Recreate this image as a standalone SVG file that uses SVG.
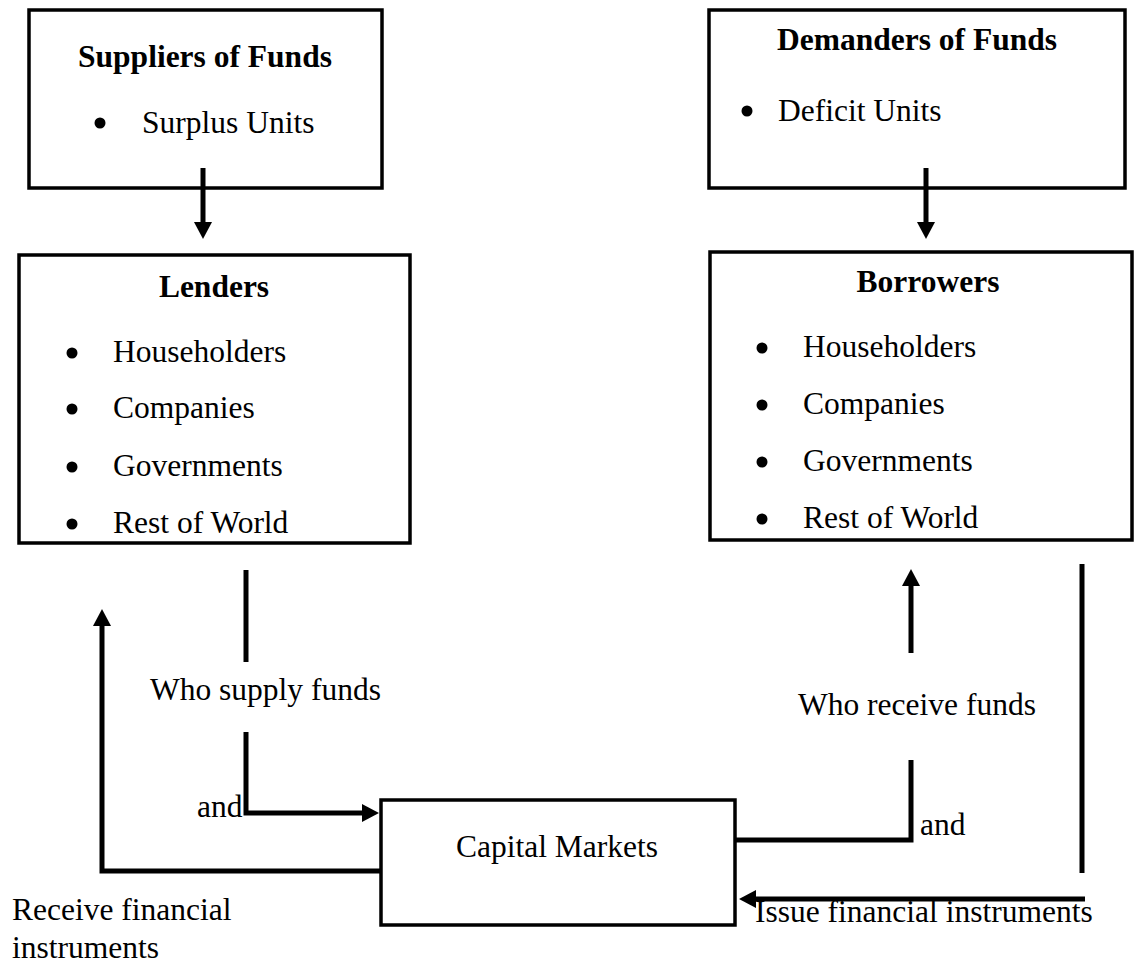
<svg xmlns="http://www.w3.org/2000/svg" width="1136" height="966" viewBox="0 0 1136 966">
<style>
.box{fill:#fff;stroke:#000;stroke-width:3.5}
.t{font-family:"Liberation Serif","Times New Roman",serif;font-size:31.5px;fill:#000}
.b{font-weight:bold}
.c{text-anchor:middle}
.ln{fill:none;stroke:#000;stroke-width:5;stroke-linejoin:miter}
.dot{fill:#000}
</style>
<defs>
<marker id="ah" markerUnits="userSpaceOnUse" markerWidth="18" markerHeight="18" refX="1" refY="9" orient="auto">
<path d="M0,0 L17,9 L0,18 z" fill="#000"/>
</marker>
</defs>
<rect width="1136" height="966" fill="#fff"/>
<g id="suppliers">
<rect class="box" x="29" y="10" width="353" height="178"/>
<text class="t b c" x="205" y="67">Suppliers of Funds</text>
<circle class="dot" cx="100" cy="123" r="5.5"/>
<text class="t" x="142" y="133">Surplus Units</text>
</g>
<g id="demanders">
<rect class="box" x="709" y="10" width="416" height="178"/>
<text class="t b c" x="917" y="50">Demanders of Funds</text>
<circle class="dot" cx="747" cy="111" r="5.5"/>
<text class="t" x="778" y="121">Deficit Units</text>
</g>
<g id="lenders">
<rect class="box" x="19" y="255" width="391" height="288"/>
<text class="t b c" x="214" y="297">Lenders</text>
<circle class="dot" cx="72" cy="353" r="5.5"/>
<text class="t" x="113" y="362">Householders</text>
<circle class="dot" cx="72" cy="409" r="5.5"/>
<text class="t" x="113" y="418">Companies</text>
<circle class="dot" cx="72" cy="467" r="5.5"/>
<text class="t" x="113" y="476">Governments</text>
<circle class="dot" cx="72" cy="524" r="5.5"/>
<text class="t" x="113" y="533">Rest of World</text>
</g>
<g id="borrowers">
<rect class="box" x="710" y="252" width="422" height="288"/>
<text class="t b c" x="928" y="292">Borrowers</text>
<circle class="dot" cx="762" cy="348" r="5.5"/>
<text class="t" x="803" y="357">Householders</text>
<circle class="dot" cx="762" cy="405" r="5.5"/>
<text class="t" x="803" y="414">Companies</text>
<circle class="dot" cx="762" cy="462" r="5.5"/>
<text class="t" x="803" y="471">Governments</text>
<circle class="dot" cx="762" cy="519" r="5.5"/>
<text class="t" x="803" y="528">Rest of World</text>
</g>
<g id="capital-markets">
<rect class="box" x="381" y="800" width="354" height="125"/>
<text class="t c" x="557" y="857">Capital Markets</text>
</g>
<g id="connectors">
<path class="ln" d="M203,168 V223" marker-end="url(#ah)"/>
<path class="ln" d="M926,168 V223" marker-end="url(#ah)"/>
<path class="ln" d="M246,570 V662"/>
<path class="ln" d="M246,732 V813 H363" marker-end="url(#ah)"/>
<path class="ln" d="M380,871 H102 V625" marker-end="url(#ah)"/>
<path class="ln" d="M735,840 H911 V760"/>
<path class="ln" d="M911,653 V585" marker-end="url(#ah)"/>
<path class="ln" d="M1082,564 V873"/>
<path class="ln" d="M1085,899 H755" marker-end="url(#ah)"/>
</g>
<g id="labels">
<text class="t" x="150" y="700">Who supply funds</text>
<text class="t" x="197" y="817">and</text>
<text class="t" x="12" y="920">Receive financial</text>
<text class="t" x="12" y="958">instruments</text>
<text class="t" x="798" y="715">Who receive funds</text>
<text class="t" x="920" y="835">and</text>
<text class="t" x="755" y="922">Issue financial instruments</text>
</g>
</svg>
